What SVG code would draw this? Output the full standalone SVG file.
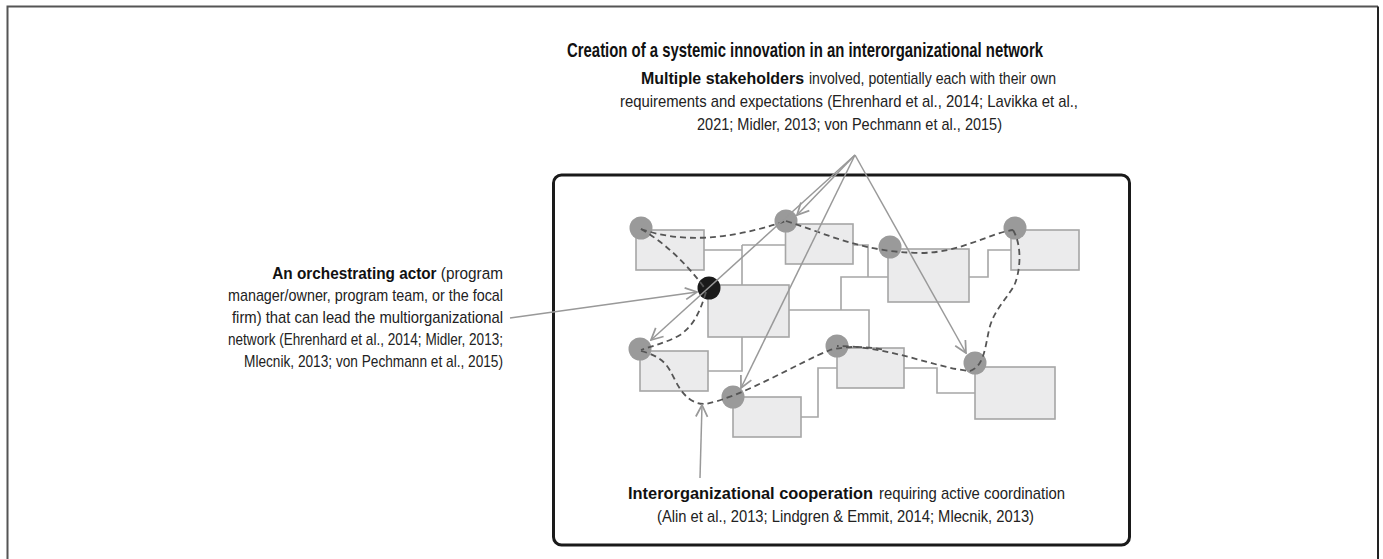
<svg xmlns="http://www.w3.org/2000/svg" width="1383" height="559" viewBox="0 0 1383 559">
  <style>
    .txt { font-family: "Liberation Sans", Arial, sans-serif; font-size: 17px; fill: #222; }
    .b { font-weight: bold; fill: #111; }
    .title { font-family: "Liberation Sans", Arial, sans-serif; font-size: 21px; font-weight: bold; fill: #111; }
    .org { fill: #ebebec; stroke: #a6a6a6; stroke-width: 1.6; }
    .tie { fill: none; stroke: #a6a6a6; stroke-width: 1.6; }
    .actor { fill: #9a9a9a; }
    .lead { fill: #1a1a1a; }
    .coop { fill: none; stroke: #555; stroke-width: 1.8; stroke-dasharray: 6 4; }
    .ptr { fill: none; stroke: #999; stroke-width: 1.5; marker-end: url(#chev); }
  </style>
  <defs>
    <marker id="chev" markerUnits="userSpaceOnUse" markerWidth="14" markerHeight="14" viewBox="0 0 12 12" refX="11" refY="6" orient="auto">
      <path d="M1,1 L11,6 L1,11" fill="none" stroke="#999" stroke-width="1.5"/>
    </marker>
  </defs>

  <rect width="1383" height="559" fill="#fff"/>

  <!-- outer frame (open at the bottom) -->
  <path d="M7.5,559 V6.5 H1378" fill="none" stroke="#555" stroke-width="2"/>
  <path d="M1378,6.5 V559" fill="none" stroke="#222" stroke-width="2"/>

  <text class="title" x="805" y="57" text-anchor="middle" textLength="476" lengthAdjust="spacingAndGlyphs">Creation of a systemic innovation in an interorganizational network</text>

  <!-- network boundary -->
  <rect x="553.5" y="175" width="576" height="370" rx="8" fill="none" stroke="#1a1a1a" stroke-width="3"/>

  <!-- organisational ties -->
  <g id="ties">
    <path class="tie" d="M704,250 H742 M742,245 H785.5 M742,245 V285 M742,337 V371 H708"/>
    <path class="tie" d="M789,310 H869 V348 M841,310 V277 H888 M853,245 H868 V277"/>
    <path class="tie" d="M969,277 H988 V250 H1011"/>
    <path class="tie" d="M801,417 H818 V368 H837 M904,368 H937 V393 H975"/>
  </g>

  <!-- organisations -->
  <g id="org-1"><rect class="org" x="636" y="230" width="68" height="40"/></g>
  <g id="org-2"><rect class="org" x="785.5" y="224" width="67.5" height="40"/></g>
  <g id="org-3"><rect class="org" x="708" y="285" width="81" height="52"/></g>
  <g id="org-4"><rect class="org" x="888" y="249" width="81" height="53"/></g>
  <g id="org-5"><rect class="org" x="1011" y="230" width="68" height="40"/></g>
  <g id="org-6"><rect class="org" x="640" y="351" width="68" height="40"/></g>
  <g id="org-7"><rect class="org" x="733" y="397" width="68" height="40"/></g>
  <g id="org-8"><rect class="org" x="837" y="348" width="67" height="40"/></g>
  <g id="org-9"><rect class="org" x="975" y="367" width="80" height="52"/></g>

  <!-- stakeholders -->
  <g id="actor-1"><circle class="actor" cx="641" cy="228" r="11.5"/></g>
  <g id="actor-2"><circle class="actor" cx="786" cy="221" r="11.5"/></g>
  <g id="actor-3"><circle class="actor" cx="890" cy="247" r="11.5"/></g>
  <g id="actor-4"><circle class="actor" cx="1015" cy="228" r="11.5"/></g>
  <g id="actor-5"><circle class="actor" cx="640" cy="349" r="11.5"/></g>
  <g id="actor-6"><circle class="actor" cx="733" cy="397" r="11.5"/></g>
  <g id="actor-7"><circle class="actor" cx="837" cy="346" r="11.5"/></g>
  <g id="actor-8"><circle class="actor" cx="975" cy="363" r="11.5"/></g>
  <g id="orchestrator"><circle class="lead" cx="709" cy="288" r="11.5"/></g>

  <!-- cooperation paths -->
  <g id="cooperation">
    <path class="coop" d="M641,229 Q700,250 786,221"/>
    <path class="coop" d="M786,221 C830,235 862,252 920,253 C960,253 990,233 1013,230"/>
    <path class="coop" d="M1013,230 C1022,245 1021,270 1014,286 C1004,302 993,312 989,330 C985,348 984,366 970,371 C935,368 890,346 837,346"/>
    <path class="coop" d="M641,229 C662,241 686,262 706,290"/>
    <path class="coop" d="M706,292 C700,312 694,325 680,335 C668,342 655,345 641,350"/>
    <path class="coop" d="M641,351 C664,357 668,366 675,380 C683,396 692,404 705,404 C740,398 800,362 830,350 C850,345 870,347 885,350"/>
  </g>

  <!-- pointers from the labels -->
  <g id="pointers">
    <line class="ptr" x1="855" y1="155" x2="651" y2="340"/>
    <line class="ptr" x1="855" y1="155" x2="797" y2="215"/>
    <line class="ptr" x1="855" y1="155" x2="741" y2="388"/>
    <line class="ptr" x1="855" y1="155" x2="966" y2="353"/>
    <line class="ptr" x1="510" y1="318" x2="697" y2="292"/>
    <line class="ptr" x1="700" y1="478" x2="702" y2="405"/>
  </g>

  <g id="label-stakeholders" class="txt">
    <text class="b" x="641" y="84" textLength="163" lengthAdjust="spacingAndGlyphs">Multiple stakeholders</text>
    <text x="809" y="84" textLength="247" lengthAdjust="spacingAndGlyphs">involved, potentially each with their own</text>
    <text x="849" y="107" text-anchor="middle" textLength="458" lengthAdjust="spacingAndGlyphs">requirements and expectations (Ehrenhard et al., 2014; Lavikka et al.,</text>
    <text x="849.5" y="130" text-anchor="middle" textLength="305" lengthAdjust="spacingAndGlyphs">2021; Midler, 2013; von Pechmann et al., 2015)</text>
  </g>

  <g id="label-orchestrator" class="txt">
    <text transform="translate(503,279) scale(0.902,1)" text-anchor="end"><tspan class="b">An orchestrating actor</tspan> (program</text>
    <text x="503" y="301" text-anchor="end" textLength="275" lengthAdjust="spacingAndGlyphs">manager/owner, program team, or the focal</text>
    <text x="503" y="323" text-anchor="end" textLength="271" lengthAdjust="spacingAndGlyphs">firm) that can lead the multiorganizational</text>
    <text x="503" y="345" text-anchor="end" textLength="275" lengthAdjust="spacingAndGlyphs">network (Ehrenhard et al., 2014; Midler, 2013;</text>
    <text x="503" y="367" text-anchor="end" textLength="259" lengthAdjust="spacingAndGlyphs">Mlecnik, 2013; von Pechmann et al., 2015)</text>
  </g>

  <g id="label-cooperation" class="txt">
    <text class="b" x="628" y="499" textLength="245" lengthAdjust="spacingAndGlyphs">Interorganizational cooperation</text>
    <text x="879" y="499" textLength="186" lengthAdjust="spacingAndGlyphs">requiring active coordination</text>
    <text x="845.5" y="522" text-anchor="middle" textLength="377" lengthAdjust="spacingAndGlyphs">(Alin et al., 2013; Lindgren &amp; Emmit, 2014; Mlecnik, 2013)</text>
  </g>
</svg>
